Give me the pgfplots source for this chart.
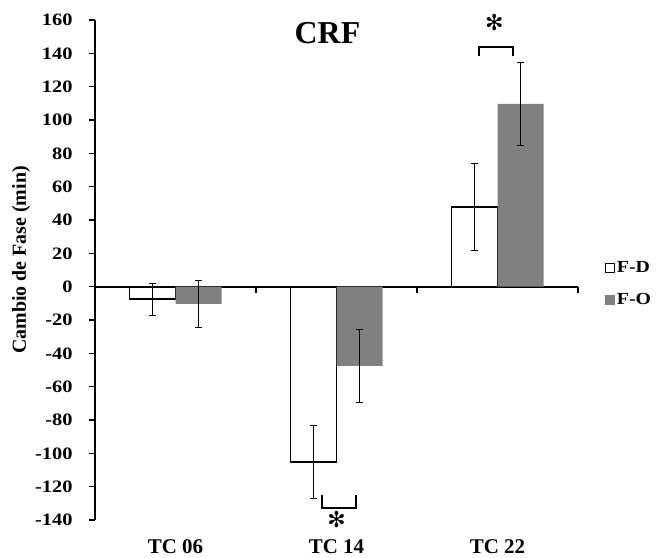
\documentclass[border=0pt]{standalone}
\usepackage{fontspec}
\setmainfont{Liberation Serif}
\newfontfamily\wideserif{Liberation Serif}[FakeStretch=1.17]
\newfontfamily\symfont{DejaVu Sans}
\usepackage{pgfplots}
\pgfplotsset{compat=1.18}
\definecolor{barfo}{RGB}{128,128,128}
\begin{document}
\begin{tikzpicture}
\path[use as bounding box] (0bp,0bp) rectangle (659bp,558bp);
\begin{axis}[
  at={(95bp,38bp)}, anchor=south west,
  scale only axis, width=483bp, height=500bp,
  clip=false,
  ybar, bar width=46bp,
  xmin=-0.5, xmax=2.5, ymin=-140, ymax=160,
  axis lines*=left,
  x axis line style={draw=none},
  y axis line style={line width=1.6bp, black},
  xtick={0,1,2}, xticklabels={TC 06,TC 14,TC 22},
  xtick style={draw=none},
  xticklabel style={font=\bfseries\fontsize{21}{21}\selectfont, yshift=-10bp},
  ytick={-140,-120,...,160},
  yticklabels={-140,-120,-100,-80,-60,-40,-20,0,20,40,60,80,100,120,140,160},
  ytick style={line width=1.6bp, black},
  yticklabel style={font=\wideserif\bfseries\fontsize{17.5}{17.5}\selectfont, xshift=-13bp},
  tick align=outside, major tick length=6bp,
  extra y ticks={0}, extra y tick labels={},
  extra y tick style={grid=major, major grid style={black, line width=1.8bp}, ytick style={draw=none}},
  ylabel={Cambio de Fase (min)},
  every axis y label/.style={at={(rel axis cs:-0.153,0.52)}, rotate=90, anchor=center,
    font=\bfseries\fontsize{20}{20}\selectfont},
  legend style={at={(1.049,0.521)}, anchor=north west, draw=none, fill=none,
    font=\wideserif\bfseries\fontsize{17}{17}\selectfont, row sep=19bp,
    nodes={inner xsep=2bp, inner ysep=0bp}},
  legend cell align=left,
]
% F-D: white bars with black outline
\addplot[draw=black, fill=white, line width=1.8bp, bar shift=-23bp,
  legend image code/.code={\draw[black, fill=white, line width=1.3bp] (0.6bp,-4.4bp) rectangle (9.4bp,4.4bp);},
  error bars/.cd, y dir=both, y explicit,
  error bar style={line width=0.8bp, black},
  error mark options={rotate=90, line width=0.8bp, black, mark size=3.5bp}]
  coordinates {(0,-7.6) +- (0,9.4) (1,-105) +- (0,22) (2,48) +- (0,26)};
% F-O: grey bars
\addplot[draw=none, fill=barfo, bar shift=23bp,
  legend image code/.code={\fill[barfo] (0bp,-5bp) rectangle (10bp,5bp);},
  error bars/.cd, y dir=both, y explicit,
  error bar style={line width=0.8bp, black},
  error mark options={rotate=90, line width=0.8bp, black, mark size=3.5bp}]
  coordinates {(0,-10.4) +- (0,14.3) (1,-47.6) +- (0,21.7) (2,109.6) +- (0,24.8)};
\legend{F-D,F-O}
% category separators on the zero line
\draw[line width=1.6bp] (axis cs:0.5,0) -- ([yshift=-6bp]axis cs:0.5,0);
\draw[line width=1.6bp] (axis cs:1.5,0) -- ([yshift=-6bp]axis cs:1.5,0);
\draw[line width=1.6bp] (axis cs:2.5,0) -- ([yshift=-6bp]axis cs:2.5,0);
% significance brackets
\draw[line width=1.8bp] (axis cs:1.885,138.4) -- (axis cs:1.885,144) -- (axis cs:2.096,144) -- (axis cs:2.096,138.4);
\node[inner sep=0pt] at (axis cs:1.98,158.5) {\symfont\fontsize{22}{22}\selectfont ✻};
\draw[line width=1.8bp] (axis cs:0.908,-125) -- (axis cs:0.908,-132.6) -- (axis cs:1.121,-132.6) -- (axis cs:1.121,-125);
\node[inner sep=0pt] at (axis cs:1.0,-139.5) {\symfont\fontsize{22}{22}\selectfont ✻};
% title
\node at (axis cs:0.944,152) {\bfseries\fontsize{32}{32}\selectfont CRF};
\end{axis}
\end{tikzpicture}
\end{document}
